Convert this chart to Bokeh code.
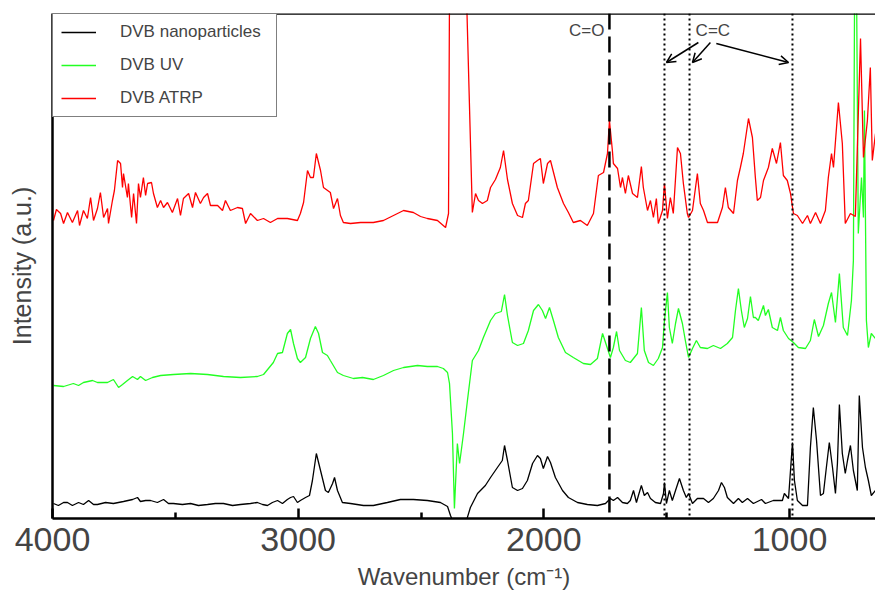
from bokeh.plotting import figure
from bokeh.models import Range1d, FixedTicker, Span, Label, Arrow, OpenHead, Legend, LegendItem
from bokeh.embed import file_html
from bokeh.resources import INLINE

# ---------------- data ----------------
wn_atrp = [3996, 3984, 3967, 3955, 3939, 3919, 3898, 3890, 3874, 3858, 3845, 3833, 3817, 3805, 3792, 3776,
           3772, 3756, 3748, 3735, 3723, 3715, 3711, 3695, 3691, 3678, 3670, 3658, 3650, 3642, 3630, 3621,
           3613, 3597, 3589, 3573, 3560, 3548, 3532, 3512, 3491, 3479, 3467, 3446, 3430, 3418, 3398, 3385,
           3369, 3357, 3328, 3308, 3296, 3276, 3247, 3227, 3214, 3194, 3166, 3141, 3113, 3084, 3044, 3003,
           2991, 2978, 2962, 2950, 2938, 2926, 2909, 2897, 2869, 2856, 2840, 2828, 2816, 2787, 2746, 2694,
           2653, 2612, 2571, 2531, 2502, 2474, 2433, 2400, 2388, 2380, 2352, 2323, 2315, 2291, 2278, 2266,
           2250, 2230, 2217, 2197, 2177, 2164, 2148, 2128, 2107, 2087, 2075, 2063, 2042, 2026, 2014, 2002,
           1985, 1973, 1945, 1920, 1900, 1880, 1851, 1823, 1798, 1778, 1757, 1741, 1733, 1721, 1717, 1700,
           1688, 1680, 1668, 1656, 1639, 1619, 1603, 1595, 1578, 1566, 1554, 1542, 1534, 1517, 1509, 1497,
           1485, 1473, 1456, 1444, 1432, 1416, 1411, 1395, 1375, 1363, 1350, 1334, 1293, 1273, 1261, 1249,
           1228, 1212, 1200, 1188, 1167, 1151, 1139, 1131, 1118, 1106, 1086, 1070, 1053, 1037, 1025, 1009,
           996, 984, 968, 947, 927, 915, 894, 874, 854, 842, 829, 821, 801, 785, 773, 752,
           732, 711, 699, 683, 671, 663, 650]
int_atrp = [59.6, 61.8, 61.0, 59.0, 61.2, 59.2, 61.6, 58.6, 61.6, 60.0, 64.2, 59.6, 62.0, 65.2, 60.2, 62.0,
            59.0, 63.6, 65.6, 71.6, 71.0, 66.2, 69.0, 64.2, 67.0, 60.2, 65.0, 59.0, 67.0, 64.2, 68.2, 64.6,
            67.0, 67.2, 65.0, 62.2, 63.6, 62.2, 63.2, 61.2, 64.0, 60.6, 64.0, 65.0, 62.2, 65.2, 63.0, 64.2,
            65.0, 62.6, 62.6, 61.6, 63.6, 61.6, 62.2, 62.0, 59.0, 61.0, 59.6, 60.0, 59.2, 60.0, 60.0, 59.6,
            61.0, 63.2, 69.6, 68.2, 68.2, 73.0, 69.6, 66.2, 65.2, 62.0, 64.0, 60.6, 59.2, 59.0, 59.2, 59.2,
            59.6, 60.6, 61.6, 61.2, 60.4, 60.0, 59.6, 58.2, 61.0, 150.0, 160.0, 150.0, 105.0, 61.2, 65.0, 63.6,
            63.0, 63.6, 66.2, 67.8, 70.2, 73.6, 67.8, 63.0, 60.6, 60.2, 63.0, 63.6, 71.0, 71.6, 72.0, 67.0,
            71.0, 71.6, 66.2, 63.0, 61.2, 59.2, 59.6, 58.6, 61.0, 68.6, 69.2, 73.0, 79.6, 73.6, 71.0, 70.0,
            66.2, 68.2, 65.0, 68.6, 65.0, 64.2, 70.4, 66.2, 61.6, 63.6, 60.2, 64.0, 59.0, 61.6, 67.0, 60.0,
            64.2, 61.0, 74.2, 73.0, 67.0, 61.0, 60.2, 61.6, 69.0, 63.0, 61.6, 59.2, 59.2, 62.2, 66.2, 62.2,
            61.0, 67.6, 70.2, 73.0, 80.0, 76.2, 68.2, 63.6, 64.2, 67.6, 70.2, 74.0, 71.0, 75.2, 68.6, 67.6,
            65.0, 61.0, 60.6, 59.0, 60.6, 59.0, 61.2, 59.0, 61.6, 68.2, 73.0, 70.2, 83.2, 75.0, 59.0, 61.0,
            60.4, 96.0, 72.2, 79.6, 90.2, 71.6, 77.0]

wn_uv = [3996, 3955, 3915, 3894, 3874, 3837, 3817, 3776, 3752, 3731, 3715, 3695, 3674, 3654, 3642, 3621,
         3593, 3560, 3508, 3438, 3369, 3304, 3235, 3166, 3141, 3121, 3101, 3084, 3064, 3044, 3031, 3019,
         3003, 2991, 2970, 2950, 2930, 2917, 2901, 2881, 2869, 2840, 2816, 2775, 2738, 2694, 2653, 2612,
         2571, 2514, 2474, 2433, 2409, 2392, 2384, 2372, 2364, 2352, 2343, 2327, 2311, 2291, 2266, 2246,
         2217, 2197, 2173, 2160, 2148, 2128, 2107, 2083, 2063, 2042, 2022, 2006, 1993, 1977, 1961, 1941,
         1912, 1880, 1839, 1810, 1782, 1761, 1741, 1729, 1717, 1704, 1692, 1668, 1648, 1619, 1603, 1591,
         1574, 1554, 1534, 1517, 1509, 1497, 1489, 1477, 1464, 1452, 1436, 1424, 1411, 1395, 1379, 1363,
         1334, 1310, 1281, 1253, 1232, 1220, 1208, 1196, 1184, 1171, 1159, 1147, 1139, 1127, 1106, 1098,
         1086, 1070, 1049, 1037, 1025, 1004, 984, 964, 935, 915, 899, 882, 862, 842, 829, 813,
         797, 781, 764, 748, 740, 732, 720, 707, 699, 695, 687, 679, 667, 650]
int_uv = [26.6, 26.4, 27.0, 26.6, 27.2, 27.6, 27.2, 27.2, 27.8, 26.2, 26.8, 27.6, 28.4, 27.8, 28.4, 27.6,
          28.2, 28.6, 28.8, 29.0, 28.8, 28.4, 28.2, 28.4, 28.8, 30.0, 31.2, 33.0, 33.2, 37.0, 37.8, 35.0,
          32.0, 31.2, 32.2, 36.0, 38.4, 37.0, 33.2, 32.6, 31.6, 29.2, 28.6, 28.0, 28.2, 27.8, 28.6, 29.6,
          30.2, 30.6, 30.4, 30.4, 30.0, 29.2, 27.0, 17.0, 2.0, 15.0, 11.0, 17.0, 23.6, 31.6, 33.6, 36.2,
          39.6, 41.0, 41.4, 44.8, 40.6, 35.2, 34.6, 35.0, 37.6, 41.6, 42.8, 41.6, 40.0, 42.2, 39.6, 36.2,
          33.2, 32.2, 31.0, 30.8, 32.0, 37.0, 34.0, 32.2, 34.2, 37.4, 33.6, 31.6, 31.2, 33.0, 42.2, 33.6,
          31.2, 30.6, 32.0, 34.2, 39.6, 45.2, 38.2, 35.0, 39.0, 42.0, 39.0, 35.6, 32.2, 34.0, 35.6, 34.2,
          34.0, 34.6, 34.0, 35.0, 36.2, 41.6, 46.0, 41.6, 38.2, 40.0, 44.4, 40.2, 40.2, 39.6, 42.6, 40.6,
          41.8, 38.2, 37.6, 40.2, 37.6, 36.0, 35.2, 34.2, 34.0, 35.6, 39.8, 36.4, 38.6, 43.0, 45.2, 39.2,
          49.0, 38.2, 36.6, 43.6, 51.6, 140.0, 57.0, 68.2, 60.2, 81.6, 39.6, 34.2, 37.0, 36.0]

wn_np = [3996, 3976, 3955, 3939, 3919, 3894, 3874, 3853, 3833, 3817, 3784, 3752, 3711, 3674, 3654, 3642,
         3621, 3601, 3573, 3548, 3528, 3508, 3471, 3438, 3406, 3369, 3337, 3304, 3267, 3235, 3194, 3166,
         3145, 3125, 3105, 3084, 3064, 3044, 3031, 3019, 3003, 2991, 2970, 2954, 2942, 2926, 2909, 2889,
         2877, 2860, 2852, 2840, 2820, 2787, 2734, 2694, 2637, 2584, 2531, 2474, 2421, 2392, 2380, 2368,
         2339, 2315, 2299, 2270, 2238, 2217, 2189, 2169, 2160, 2148, 2128, 2107, 2087, 2067, 2046, 2026,
         2014, 2002, 1985, 1973, 1953, 1924, 1900, 1863, 1823, 1782, 1749, 1729, 1717, 1700, 1680, 1660,
         1648, 1635, 1623, 1615, 1603, 1591, 1578, 1566, 1546, 1525, 1513, 1509, 1501, 1489, 1477, 1464,
         1448, 1432, 1420, 1411, 1395, 1375, 1350, 1330, 1310, 1289, 1277, 1265, 1253, 1228, 1208, 1192,
         1171, 1147, 1114, 1098, 1066, 1029, 1021, 1004, 988, 980, 968, 947, 927, 915, 903, 890,
         874, 862, 850, 838, 825, 813, 805, 797, 785, 773, 764, 752, 740, 724, 716, 703,
         691, 679, 667, 650]
int_np = [3.0, 2.6, 3.2, 3.2, 2.6, 3.2, 2.8, 3.6, 2.8, 2.8, 3.2, 3.0, 3.4, 3.8, 4.2, 3.4,
          3.6, 3.6, 3.2, 3.8, 3.0, 3.0, 2.8, 3.0, 2.6, 2.8, 3.0, 3.0, 2.6, 2.8, 3.0, 3.2,
          2.8, 2.6, 3.2, 3.6, 3.0, 3.8, 4.2, 4.4, 3.2, 3.6, 4.2, 4.6, 7.6, 13.0, 9.6, 5.6,
          5.2, 7.0, 8.2, 5.6, 3.2, 3.0, 2.6, 2.6, 3.2, 3.8, 3.8, 3.6, 3.2, 2.4, 0.6, -0.8,
          -1.4, -0.4, 2.2, 5.0, 6.6, 8.2, 10.2, 11.6, 14.6, 11.6, 6.2, 5.6, 6.0, 7.6, 11.0, 12.6,
          12.0, 10.0, 12.4, 11.2, 8.2, 5.6, 4.2, 3.2, 2.8, 2.6, 3.0, 4.0, 3.6, 4.2, 3.2, 3.0,
          3.6, 5.6, 3.2, 4.6, 6.6, 4.6, 5.2, 4.0, 3.2, 3.0, 5.0, 7.2, 3.0, 5.6, 3.6, 5.6,
          8.0, 5.6, 4.2, 5.0, 3.0, 4.0, 4.0, 3.2, 4.0, 5.6, 7.2, 6.2, 4.2, 3.0, 4.0, 3.2,
          4.0, 3.0, 3.8, 3.0, 3.6, 3.6, 5.0, 4.0, 15.2, 7.6, 3.6, 2.6, 2.6, 14.2, 22.2, 15.6,
          4.6, 5.0, 10.2, 15.2, 10.2, 5.0, 11.0, 22.8, 13.0, 9.0, 11.6, 14.6, 9.6, 5.6, 24.6, 14.2,
          10.2, 7.6, 4.6, 5.6]

series_names = ["DVB nanoparticles", "DVB UV", "DVB ATRP"]
series_colors = ["#000000", "#22ff22", "#ff0000"]

x_ticks = [4000, 3000, 2000, 1000]
x_minor_ticks = [3500, 2500, 1500]
x_title = "Wavenumber (cm\u207b\u00b9)"
y_title = "Intensity (a.u.)"

co_line = 1733                       # C=O band (dashed)
cc_lines = [1509, 1407, 988]         # C=C bands (dotted)
co_label = (1753, 97.6)
cc_label = (1312, 97.6)
cc_arrow_start = [(1371, 95.2), (1322, 95.2), (1298, 95.0)]
cc_arrow_end = [(1501, 91.2), (1395, 91.2), (1004, 91.2)]

FONT = "Liberation Sans"

p = figure(width=875, height=592, output_backend="svg", toolbar_location=None,
           x_range=Range1d(4000, 650), y_range=Range1d(0, 101),
           min_border_left=52, min_border_right=0, min_border_top=13, min_border_bottom=74)
p.grid.visible = False
p.outline_line_color = None
p.background_fill_color = "white"
p.border_fill_color = "white"

xa = p.xaxis[0]
xa.ticker = FixedTicker(ticks=x_ticks, minor_ticks=x_minor_ticks)
xa.major_tick_in = 10
xa.major_tick_out = 0
xa.minor_tick_in = 6
xa.minor_tick_out = 0
xa.axis_line_width = 2.5
xa.major_tick_line_width = 2.5
xa.minor_tick_line_width = 2.5
xa.major_label_text_font = FONT
xa.major_label_text_font_size = "34px"
xa.major_label_standoff = 9
xa.axis_label = x_title
xa.axis_label_text_font = FONT
xa.axis_label_text_font_size = "24px"
xa.axis_label_text_font_style = "normal"
xa.axis_label_standoff = 9

ya = p.yaxis[0]
ya.ticker = FixedTicker(ticks=[])
ya.major_label_text_font_size = "0px"
ya.major_label_standoff = 0
ya.major_tick_line_color = None
ya.minor_tick_line_color = None
ya.axis_line_width = 2.5
ya.axis_label = y_title
ya.axis_label_text_font = FONT
ya.axis_label_text_font_size = "25px"
ya.axis_label_text_font_style = "normal"
ya.axis_label_standoff = 17

p.add_layout(Span(location=101, dimension="width", line_color="black", line_width=2.5))

r_np = p.line(wn_np, int_np, line_color=series_colors[0], line_width=1.3)
r_uv = p.line(wn_uv, int_uv, line_color=series_colors[1], line_width=1.3)
r_atrp = p.line(wn_atrp, int_atrp, line_color=series_colors[2], line_width=1.3)

p.add_layout(Span(location=co_line, dimension="height", line_color="black", line_width=2.5,
                  line_dash="16 7"))
for w in cc_lines:
    p.add_layout(Span(location=w, dimension="height", line_color="black", line_width=2,
                      line_dash="2 3"))

p.add_layout(Label(x=co_label[0], y=co_label[1], text="C=O", text_align="right",
                   text_baseline="middle", text_font=FONT, text_font_size="17px"))
p.add_layout(Label(x=cc_label[0], y=cc_label[1], text="C=C", text_align="center",
                   text_baseline="middle", text_font=FONT, text_font_size="17px"))
for (xs, ys), (xe, ye) in zip(cc_arrow_start, cc_arrow_end):
    p.add_layout(Arrow(x_start=xs, y_start=ys, x_end=xe, y_end=ye, line_width=1.5,
                       line_color="black",
                       end=OpenHead(size=9, line_width=1.5, line_color="black")))

legend = Legend(items=[LegendItem(label=series_names[0], renderers=[r_np]),
                       LegendItem(label=series_names[1], renderers=[r_uv]),
                       LegendItem(label=series_names[2], renderers=[r_atrp])],
                location="top_left", margin=0, padding=8, spacing=13,
                glyph_width=35, glyph_height=20, label_height=20, label_standoff=24,
                label_width=148,
                label_text_font=FONT, label_text_font_size="17px",
                border_line_color="black", border_line_width=1.5,
                background_fill_color="white", background_fill_alpha=1.0)
p.add_layout(legend)

open("out.html", "w").write(file_html(p, INLINE))
